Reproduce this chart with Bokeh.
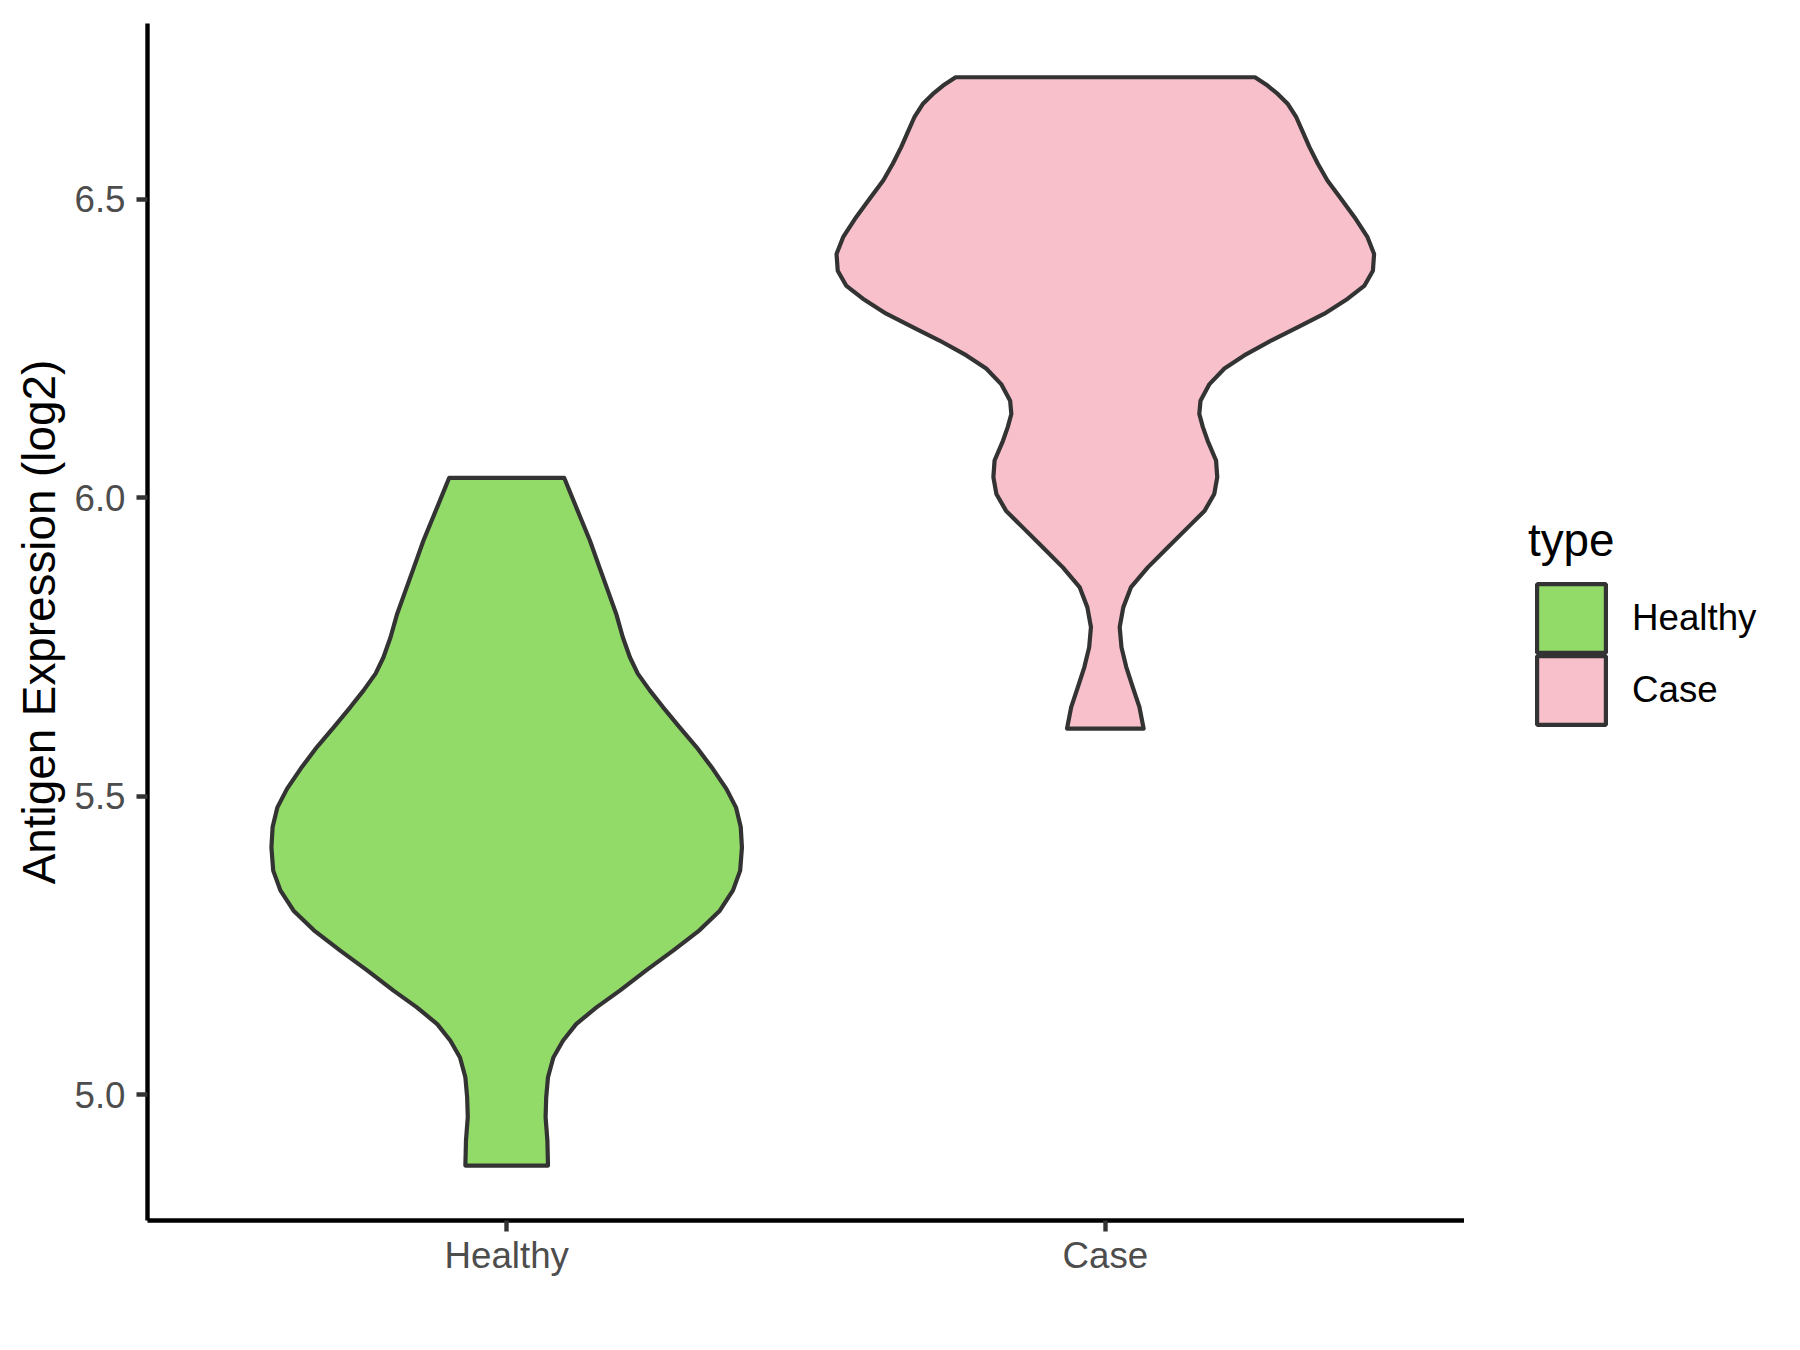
import numpy as np
from bokeh.plotting import figure
from bokeh.layouts import row
from bokeh.models import (Range1d, FixedTicker, Legend, LegendItem, ColumnDataSource,
                          PrintfTickFormatter)
from bokeh.embed import file_html
from bokeh.resources import INLINE

# ---- data ----
categories = ["Healthy", "Case"]
category_pos = [1, 2]
fill_colors = ["#93DB69", "#F7C0CB"]

# violin outlines: expression level (log2) and half-width of the density (x units)
healthy_y = [4.881, 4.923, 4.962, 4.995, 5.029, 5.062, 5.090, 5.118, 5.146, 5.174,
             5.208, 5.241, 5.275, 5.308, 5.342, 5.375, 5.414, 5.448, 5.481, 5.512,
             5.546, 5.582, 5.615, 5.649, 5.677, 5.705, 5.732, 5.766, 5.805, 5.844,
             5.883, 5.928, 5.984, 6.033]
healthy_halfwidth = [0.069, 0.068, 0.065, 0.066, 0.069, 0.078, 0.094, 0.116, 0.150, 0.189,
                     0.233, 0.278, 0.322, 0.356, 0.378, 0.390, 0.393, 0.391, 0.383, 0.367,
                     0.344, 0.317, 0.289, 0.261, 0.239, 0.219, 0.206, 0.194, 0.183, 0.169,
                     0.155, 0.139, 0.116, 0.096]

case_y = [5.613, 5.649, 5.682, 5.716, 5.749, 5.783, 5.816, 5.850, 5.883, 5.917,
          5.950, 5.978, 6.006, 6.034, 6.062, 6.095, 6.118, 6.140, 6.162, 6.190,
          6.216, 6.238, 6.263, 6.285, 6.308, 6.333, 6.355, 6.380, 6.408, 6.436,
          6.470, 6.500, 6.531, 6.559, 6.587, 6.612, 6.637, 6.659, 6.676, 6.690,
          6.704]
case_halfwidth = [0.064, 0.057, 0.046, 0.035, 0.027, 0.024, 0.030, 0.043, 0.071, 0.105,
                  0.138, 0.166, 0.182, 0.187, 0.185, 0.171, 0.163, 0.157, 0.159, 0.174,
                  0.199, 0.232, 0.277, 0.321, 0.366, 0.405, 0.433, 0.447, 0.449, 0.438,
                  0.416, 0.394, 0.371, 0.355, 0.341, 0.330, 0.319, 0.305, 0.288, 0.271,
                  0.250]

y_ticks = [5.0, 5.5, 6.0, 6.5]
y_title = "Antigen Expression (log2)"
legend_title = "type"

FONT = "Liberation Sans"
OUTLINE = "#333333"

p = figure(width=1464, height=1334,
           x_range=Range1d(0.4, 2.6), y_range=Range1d(4.789, 6.794),
           output_backend="svg", toolbar_location=None,
           min_border_left=147, min_border_right=0,
           min_border_top=23, min_border_bottom=114)
p.xgrid.visible = False
p.ygrid.visible = False
p.outline_line_color = None
p.background_fill_color = "white"
p.border_fill_color = "white"


def violin(pos, ys, hws):
    ys = np.asarray(ys)
    hws = np.asarray(hws)
    xs = np.concatenate([pos - hws, (pos + hws)[::-1]])
    yy = np.concatenate([ys, ys[::-1]])
    return xs.tolist(), yy.tolist()


sources = []
for cat, pos, col, ys, hws in zip(categories, category_pos, fill_colors,
                                   [healthy_y, case_y], [healthy_halfwidth, case_halfwidth]):
    xs, yy = violin(pos, ys, hws)
    src = ColumnDataSource(dict(xs=[xs], ys=[yy]))
    sources.append(src)
    p.patches("xs", "ys", source=src, fill_color=col, line_color=OUTLINE,
              line_width=4.2, line_join="round")

# axes
for ax in (p.xaxis[0], p.yaxis[0]):
    ax.axis_line_color = "black"
    ax.axis_line_width = 4.4
    ax.major_tick_line_color = OUTLINE
    ax.major_tick_line_width = 4.4
    ax.major_tick_out = 11
    ax.major_tick_in = 0
    ax.minor_tick_out = 0
    ax.minor_tick_in = 0
    ax.major_label_text_font = FONT
    ax.major_label_text_font_size = "36.7px"
    ax.major_label_text_color = "#4D4D4D"

xa = p.xaxis[0]
xa.ticker = FixedTicker(ticks=category_pos)
xa.major_label_overrides = {pos: cat for pos, cat in zip(category_pos, categories)}
xa.major_label_standoff = 3

ya = p.yaxis[0]
ya.ticker = FixedTicker(ticks=y_ticks)
ya.formatter = PrintfTickFormatter(format="%.1f")
ya.major_label_standoff = 11
ya.axis_label = y_title
ya.axis_label_text_font = FONT
ya.axis_label_text_font_size = "45.8px"
ya.axis_label_text_font_style = "normal"
ya.axis_label_text_color = "black"
ya.axis_label_standoff = 6

# ---- legend panel: a second canvas to the right of the plot ----
lf = figure(width=320, height=1334, x_range=Range1d(0, 1), y_range=Range1d(0, 1),
            x_axis_type=None, y_axis_type=None, output_backend="svg",
            toolbar_location=None, min_border=0)
lf.outline_line_color = None
lf.xgrid.visible = False
lf.ygrid.visible = False
lf.background_fill_color = "white"
lf.border_fill_color = "white"

# key renderers reuse the violin data; they fall outside this panel's ranges,
# so only their legend swatches show
key_renderers = []
for col, src in zip(fill_colors, sources):
    r = lf.patches("xs", "ys", source=src, fill_color=col, line_color=OUTLINE,
                   line_width=4.2)
    key_renderers.append(r)

legend_style = dict(
    title_text_font=FONT, title_text_font_size="45.8px", title_text_font_style="normal",
    title_text_color="black", title_standoff=8,
    label_text_font=FONT, label_text_font_size="36.7px", label_text_color="black",
    label_standoff=18,
    glyph_width=86, glyph_height=86, spacing=0,
    margin=0, padding=0,
    border_line_color=None, background_fill_alpha=0,
)
legend_top = Legend(items=[LegendItem(label=categories[0], renderers=[key_renderers[0]])],
                    location=(64, 559), title=legend_title, **legend_style)
legend_bottom = Legend(items=[LegendItem(label=categories[1], renderers=[key_renderers[1]])],
                       location=(64, 487), **legend_style)
lf.add_layout(legend_top)
lf.add_layout(legend_bottom)

layout = row(p, lf)
open("out.html", "w").write(file_html(layout, INLINE))
